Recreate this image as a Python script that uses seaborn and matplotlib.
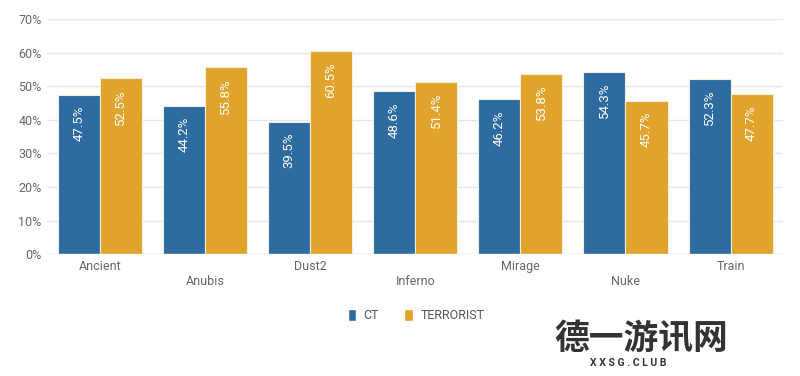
import matplotlib.pyplot as plt
import seaborn as sns
import pandas as pd
from matplotlib.patches import Patch

sns.set_theme(style="whitegrid")
plt.rcParams['font.family'] = ['Roboto', 'DejaVu Sans']

# dados do grafico
maps = ["Ancient", "Anubis", "Dust2", "Inferno", "Mirage", "Nuke", "Train"]
ct = [47.5, 44.2, 39.5, 48.6, 46.2, 54.3, 52.3]
terrorist = [52.5, 55.8, 60.5, 51.4, 53.8, 45.7, 47.7]
sides = ["CT", "TERRORIST"]
yticks = [0, 10, 20, 30, 40, 50, 60, 70]

df = pd.DataFrame({"map": maps * 2,
                   "side": ["CT"] * len(maps) + ["TERRORIST"] * len(maps),
                   "rate": ct + terrorist})

cores = {"CT": "#2d6ba0", "TERRORIST": "#e0a32c"}

fig = plt.figure(figsize=(8, 3.76), dpi=100)
ax = fig.add_axes([0.059, 0.324, 0.92, 0.625])
sns.barplot(data=df, x="map", y="rate", hue="side", palette=cores, width=0.8,
            saturation=1, edgecolor="#f3efe0", linewidth=0.8, ax=ax, legend=False)

# rotulos dentro das barras
for cont in ax.containers:
    for p in cont:
        h = p.get_height()
        ax.annotate(f"{h:.1f}%", (p.get_x() + p.get_width() / 2, h),
                    xytext=(0, -8), textcoords="offset points",
                    rotation=90, ha="center", va="top", color="white", fontsize=9.5)

ax.set_ylim(0, 70)
ax.set_yticks(yticks)
ax.set_yticklabels([f"{v}%" for v in yticks])
ax.set_xlim(-0.5, len(maps) - 0.5)
ax.set_xticks(range(len(maps)))
ax.set_xticklabels([m if i % 2 == 0 else "\n" + m for i, m in enumerate(maps)])
ax.set_xlabel("")
ax.set_ylabel("")
ax.tick_params(axis="both", colors="#666666", labelsize=9, length=0, pad=4)
ax.grid(axis="y", color="#e6e6e6", linewidth=1)
ax.grid(axis="x", visible=False)
for s in ax.spines.values():
    s.set_visible(False)
ax.axhline(0, color="#d8d8d8", linewidth=1)

handles = [Patch(facecolor=cores[s], label=s) for s in sides]
fig.legend(handles=handles, loc="center", bbox_to_anchor=(0.52, 0.16), ncol=2,
           frameon=False, fontsize=9, handlelength=0.7, handleheight=1.0,
           handletextpad=0.6, columnspacing=2, labelcolor="#555555")

# marca d'agua
fig.text(0.693, 0.1, "德一游讯网", family=['Noto Sans CJK SC', 'DejaVu Sans'],
         fontsize=25, fontweight="bold", color="#333333", va="center")
fig.text(0.738, 0.035, "X X S G . C L U B", fontsize=7.5, fontweight="bold",
         color="#333333", va="center")

fig.savefig("out.png", dpi=100)
